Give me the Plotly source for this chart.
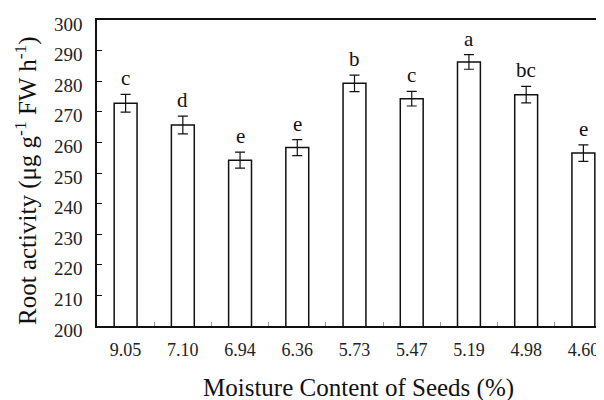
import plotly.graph_objects as go

categories = ["9.05", "7.10", "6.94", "6.36", "5.73", "5.47", "5.19", "4.98", "4.60"]
values = [272.8, 265.7, 254.2, 258.3, 279.3, 274.3, 286.3, 275.6, 256.5]
errors = [2.9, 2.9, 2.6, 2.6, 2.7, 2.4, 2.4, 2.7, 2.7]
letters = ["c", "d", "e", "e", "b", "c", "a", "bc", "e"]

x_title = "Moisture Content of Seeds (%)"
y_title = "Root activity (μg g<sup>-1</sup> FW h<sup>-1</sup>)"

FONT = "Liberation Serif, Times New Roman, serif"

fig = go.Figure()
fig.add_trace(go.Bar(
    x=categories, y=values, width=0.4,
    marker=dict(color="white", line=dict(color="#111", width=1.5)),
    error_y=dict(type="data", array=errors, visible=True, color="#111",
                 thickness=1.2, width=5),
    showlegend=False,
))

for i, (v, e, l) in enumerate(zip(values, errors, letters)):
    fig.add_annotation(x=i, y=v + e, xref="x", yref="y", text=l, showarrow=False,
                       yanchor="middle", yshift=16,
                       font=dict(family=FONT, size=21, color="#111"))

fig.add_annotation(text=x_title, xref="paper", yref="paper", x=0.508, y=-0.203,
                   xanchor="center", yanchor="middle", showarrow=False,
                   font=dict(family=FONT, size=25, color="#111"))
fig.add_annotation(text=y_title, xref="paper", yref="paper", x=-0.138, y=0.477,
                   xanchor="center", yanchor="middle", showarrow=False, textangle=-90,
                   font=dict(family=FONT, size=25, color="#111"))

fig.update_layout(
    width=604, height=400,
    margin=dict(l=89, r=0, t=12, b=82),
    plot_bgcolor="white", paper_bgcolor="white",
    font=dict(family=FONT, color="#222"),
    bargap=0.6,
)
fig.update_xaxes(
    type="category", range=[-0.5, 8.5], automargin=False,
    showline=True, linecolor="#111", linewidth=1.5, mirror=True,
    ticks="inside", tickson="boundaries", ticklen=4, tickcolor="#999", tickwidth=1,
    tickfont=dict(family=FONT, size=18, color="#222"),
    ticklabelstandoff=7, ticklabeloverflow="allow",
    showgrid=False, zeroline=False,
)
fig.update_yaxes(
    range=[200, 300], dtick=10, tick0=200, automargin=False,
    showline=True, linecolor="#111", linewidth=1.5,
    ticks="inside", ticklen=5, tickcolor="#111", tickwidth=1,
    tickfont=dict(family=FONT, size=19, color="#222"),
    ticklabelstandoff=9, ticklabelshift=4, ticklabeloverflow="allow",
    showgrid=False, zeroline=False,
)

fig.write_html("out.html")
